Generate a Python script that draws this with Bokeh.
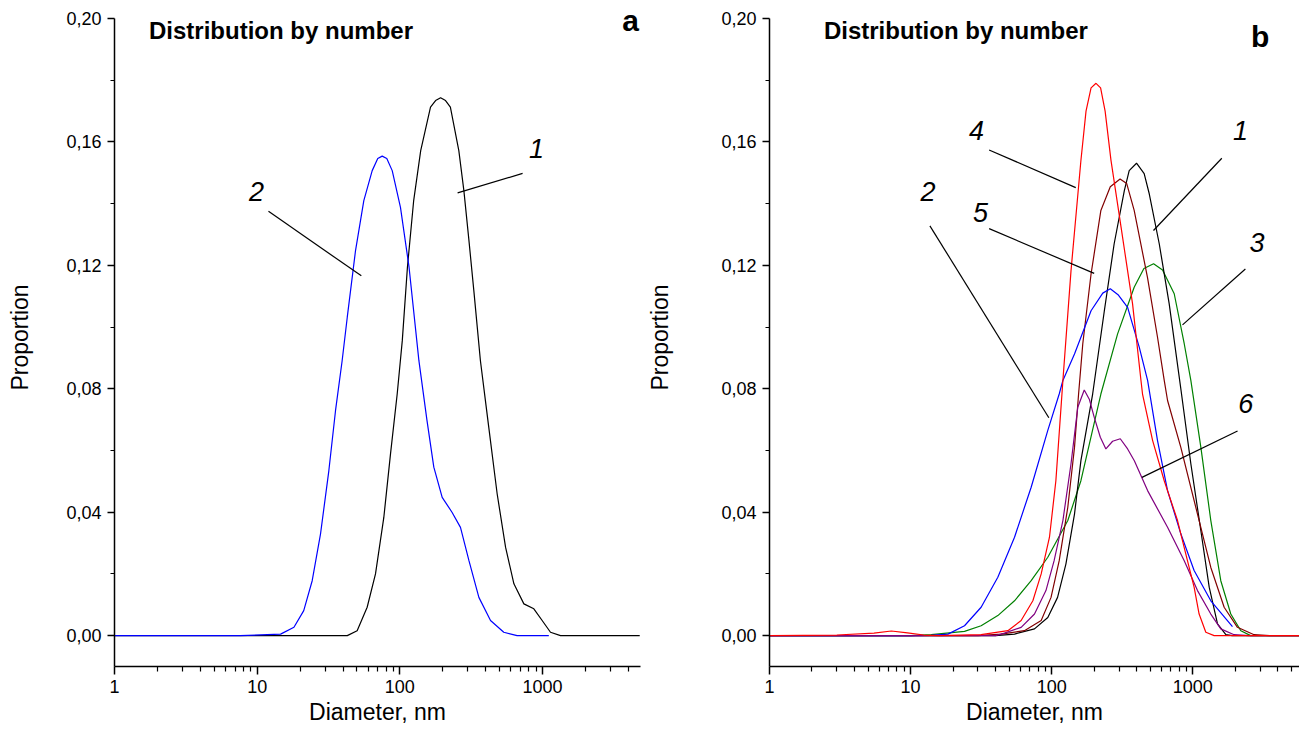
from bokeh.plotting import figure
from bokeh.layouts import row
from bokeh.models import FixedTicker, CustomJSTickFormatter, Label, Range1d
from bokeh.embed import file_html
from bokeh.resources import INLINE

# ---------------- data: panel a ----------------
a1_d = [1, 42.8, 50.2, 59, 67.5, 77.2, 86, 95.8, 104, 113, 125, 140, 164, 178, 193, 209, 226,
        259, 281, 305, 330, 367, 420, 481, 551, 630, 740, 869, 994, 1137, 1337, 4800]
a1_v = [0, 0, 0.0016, 0.0092, 0.02, 0.0383, 0.0589, 0.0783, 0.0956, 0.1194, 0.141, 0.1572,
        0.1713, 0.1734, 0.1743, 0.1734, 0.1713, 0.1572, 0.1442, 0.128, 0.1118, 0.0891, 0.0675,
        0.0459, 0.0286, 0.0168, 0.0103, 0.0087, 0.0049, 0.0011, 0, 0]
a2_d = [1, 7.6, 14.6, 18.1, 21.2, 24.3, 27.8, 31.8, 35.4, 39.4, 42.8, 48.9, 55.9, 64, 70, 75.2,
        81, 88.4, 101, 116, 136, 155, 173, 198, 232, 266, 305, 358, 432, 535, 664, 1107]
a2_v = [0, 0, 0.0005, 0.0027, 0.0081, 0.0178, 0.033, 0.0535, 0.0729, 0.0891, 0.1032, 0.1248,
        0.141, 0.1507, 0.1546, 0.1554, 0.1546, 0.1507, 0.1388, 0.1194, 0.0891, 0.0697, 0.0546,
        0.0448, 0.04, 0.0351, 0.0243, 0.0124, 0.0049, 0.0011, 0, 0]

# ---------------- data: panel b ----------------
b1_d = [1, 40, 54.5, 75.5, 93.8, 110, 126, 145, 161, 195, 236, 277, 327, 354, 399, 452, 491,
        578, 680, 822, 968, 1140, 1306, 1496, 1714, 1900, 5700]
b1_v = [0, 0, 0.0005, 0.0022, 0.0059, 0.0124, 0.0232, 0.0394, 0.0567, 0.0783, 0.1053, 0.127,
        0.1442, 0.1507, 0.1531, 0.1497, 0.1432, 0.127, 0.1075, 0.080, 0.0557, 0.034, 0.0157,
        0.0038, 0.0003, 0, 0]
b2_d = [1, 10, 14, 18.4, 24.1, 31.6, 41.5, 54.5, 71.5, 93.8, 113, 120, 145, 190, 230, 260, 295,
        345, 417, 478, 562, 662, 822, 1021, 1341, 1909]
b2_v = [0, 0, 0.0001, 0.0005, 0.0032, 0.0092, 0.0189, 0.0319, 0.0481, 0.0665, 0.0783, 0.0827,
        0.0913, 0.1053, 0.111, 0.1124, 0.1105, 0.1064, 0.0935, 0.0827, 0.0632, 0.047, 0.033,
        0.0211, 0.0113, 0.0029]
b3_d = [1, 10, 14, 24.1, 31.6, 41.5, 54.5, 71.5, 93.8, 130, 161, 223, 293, 384, 450, 527, 610,
        738, 869, 968, 1140, 1341, 1578, 1858, 2188, 2570, 5700]
b3_v = [0, 0, 0.0003, 0.0014, 0.0032, 0.0065, 0.0113, 0.0178, 0.0254, 0.0373, 0.0502, 0.0783,
        0.0978, 0.1129, 0.119, 0.1205, 0.1185, 0.1108, 0.0946, 0.0827, 0.061, 0.0373, 0.0178,
        0.007, 0.0016, 0, 0]
b4_d = [1, 3, 5.5, 7.3, 9.5, 12.4, 16, 31.6, 48.9, 60.7, 73.5, 84.2, 96.4, 107, 120, 137, 161,
        175, 190, 206, 222, 239, 263, 310, 374, 429, 440, 519, 627, 779, 916, 1021, 1108, 1236,
        1416, 5700]
b4_v = [0, 0.0002, 0.0008, 0.0015, 0.0009, 0.0002, 0, 0.0003, 0.0016, 0.0049, 0.0113, 0.02,
        0.0319, 0.0502, 0.0827, 0.1183, 0.154, 0.17, 0.1775, 0.179, 0.1775, 0.17, 0.154, 0.1324,
        0.1075, 0.0827, 0.0783, 0.0632, 0.0502, 0.0373, 0.0243, 0.0157, 0.007, 0.0011, 0, 0]
b5_d = [1, 30, 43.8, 64, 84.2, 98.9, 113, 130, 145, 155, 166, 190, 223, 260, 305, 340, 384, 477,
        562, 627, 662, 822, 1079, 1341, 1667, 2071, 2716, 3500, 5700]
b5_v = [0, 0, 0.0005, 0.0016, 0.0049, 0.0124, 0.0243, 0.0416, 0.061, 0.0783, 0.0946, 0.1172,
        0.1378, 0.1455, 0.148, 0.1465, 0.1378, 0.1161, 0.0967, 0.0827, 0.0762, 0.061, 0.0394,
        0.0221, 0.0092, 0.0027, 0.0003, 0, 0]
b6_d = [1, 40, 46.2, 60.7, 75.5, 91, 104, 120, 137, 153, 170, 185, 200, 221, 242, 270, 306, 345,
        385, 478, 662, 869, 1079, 1341, 1578, 1960, 2500, 5700]
b6_v = [0, 0, 0.0008, 0.0027, 0.007, 0.0146, 0.0243, 0.0373, 0.0557, 0.074, 0.0796, 0.0765,
        0.0708, 0.0643, 0.0605, 0.063, 0.0638, 0.0605, 0.0567, 0.047, 0.0351, 0.0243, 0.0146,
        0.007, 0.0022, 0.0003, 0, 0]

x_major = [1, 10, 100, 1000]
x_minor = [m * 10 ** k for k in range(4) for m in range(2, 10)]
y_major = [0.0, 0.04, 0.08, 0.12, 0.16, 0.20]
y_minor = [0.02, 0.06, 0.10, 0.14, 0.18]

# annotation labels: text, label x, label y, leader from (x0,y0) to (x1,y1)
a_notes = [("1", 906, 0.1578, 725, 0.1498, 254, 0.1435),
           ("2", 9.9, 0.144, 12, 0.1375, 53.7, 0.1166)]
b_notes = [("4", 29.3, 0.1636, 36, 0.1574, 148, 0.1452),
           ("1", 2175, 0.1636, 1604, 0.1547, 526, 0.1313),
           ("2", 13.3, 0.144, 13.7, 0.1328, 95.4, 0.0706),
           ("5", 31.3, 0.137, 36, 0.1319, 200, 0.1174),
           ("3", 2850, 0.1274, 2357, 0.1188, 845, 0.1007),
           ("6", 2372, 0.0752, 2074, 0.0663, 436, 0.0513)]

FONT = "Liberation Sans"
H = 745


def make_fig(width, min_left, min_right, xend, ylab_standoff):
    p = figure(width=width, height=H, x_axis_type="log",
               x_range=Range1d(1, xend), y_range=Range1d(-0.01, 0.20324),
               output_backend="svg", toolbar_location=None,
               min_border_left=min_left, min_border_right=min_right,
               min_border_top=8, min_border_bottom=79)
    p.outline_line_color = None
    p.grid.visible = False
    p.background_fill_color = "white"
    p.border_fill_color = "white"

    xa = p.xaxis[0]
    xa.ticker = FixedTicker(ticks=x_major, minor_ticks=x_minor)
    xa.formatter = CustomJSTickFormatter(code="return String(Math.round(tick));")
    xa.axis_label = "Diameter, nm"
    xa.major_tick_out = 8
    xa.minor_tick_out = 5
    xa.major_label_standoff = 5
    xa.axis_label_standoff = 3

    ya = p.yaxis[0]
    ya.ticker = FixedTicker(ticks=y_major, minor_ticks=y_minor)
    ya.formatter = CustomJSTickFormatter(code="return tick.toFixed(2).replace('.', ',');")
    ya.axis_label = "Proportion"
    ya.bounds = (-0.01, 0.20)
    ya.major_tick_out = 7
    ya.minor_tick_out = 4
    ya.major_label_standoff = 6
    ya.axis_label_standoff = ylab_standoff

    for ax in (xa, ya):
        ax.axis_line_color = "black"
        ax.axis_line_width = 1.5
        ax.major_tick_line_color = "black"
        ax.minor_tick_line_color = "black"
        ax.major_tick_line_width = 1.5
        ax.minor_tick_line_width = 1.2
        ax.major_tick_in = 0
        ax.minor_tick_in = 0
        ax.major_label_text_font = FONT
        ax.major_label_text_font_size = "18px"
        ax.major_label_text_color = "black"
        ax.axis_label_text_font = FONT
        ax.axis_label_text_font_size = "23px"
        ax.axis_label_text_font_style = "normal"
        ax.axis_label_text_color = "black"
    return p


def add_notes(p, notes):
    for t, lx, ly, x0, y0, x1, y1 in notes:
        p.segment(x0=[x0], y0=[y0], x1=[x1], y1=[y1], line_color="black", line_width=1.2)
        p.add_layout(Label(x=lx, y=ly, text=t, text_font=FONT, text_font_size="27px",
                           text_font_style="italic", text_align="center",
                           text_baseline="middle", text_color="black"))


# ---------------- panel a ----------------
pa = make_fig(644, 114, 4, 4860, 30)
pa.line(a1_d, a1_v, line_color="black", line_width=1.2)
pa.line(a2_d, a2_v, line_color="#0000ff", line_width=1.2)
add_notes(pa, a_notes)
pa.add_layout(Label(x=1.745, y=0.196, text="Distribution by number", text_font=FONT,
                    text_font_size="24px", text_font_style="bold", text_align="left",
                    text_baseline="middle", text_color="black"))
pa.add_layout(Label(x=4150, y=0.1994, text="a", text_font=FONT, text_font_size="30px",
                    text_font_style="bold", text_align="center", text_baseline="middle",
                    text_color="black"))

# ---------------- panel b ----------------
pb = make_fig(655, 124, 0, 5700, 45)
pb.line(b3_d, b3_v, line_color="#008000", line_width=1.2)
pb.line(b1_d, b1_v, line_color="black", line_width=1.2)
pb.line(b5_d, b5_v, line_color="#800000", line_width=1.2)
pb.line(b2_d, b2_v, line_color="#0000ff", line_width=1.2)
pb.line(b6_d, b6_v, line_color="#800080", line_width=1.2)
pb.line(b4_d, b4_v, line_color="#ff0000", line_width=1.2)
add_notes(pb, b_notes)
pb.add_layout(Label(x=2.43, y=0.196, text="Distribution by number", text_font=FONT,
                    text_font_size="24px", text_font_style="bold", text_align="left",
                    text_baseline="middle", text_color="black"))
pb.add_layout(Label(x=3006, y=0.1943, text="b", text_font=FONT, text_font_size="30px",
                    text_font_style="bold", text_align="center", text_baseline="middle",
                    text_color="black"))

layout = row(pa, pb)
open("out.html", "w").write(file_html(layout, INLINE))
